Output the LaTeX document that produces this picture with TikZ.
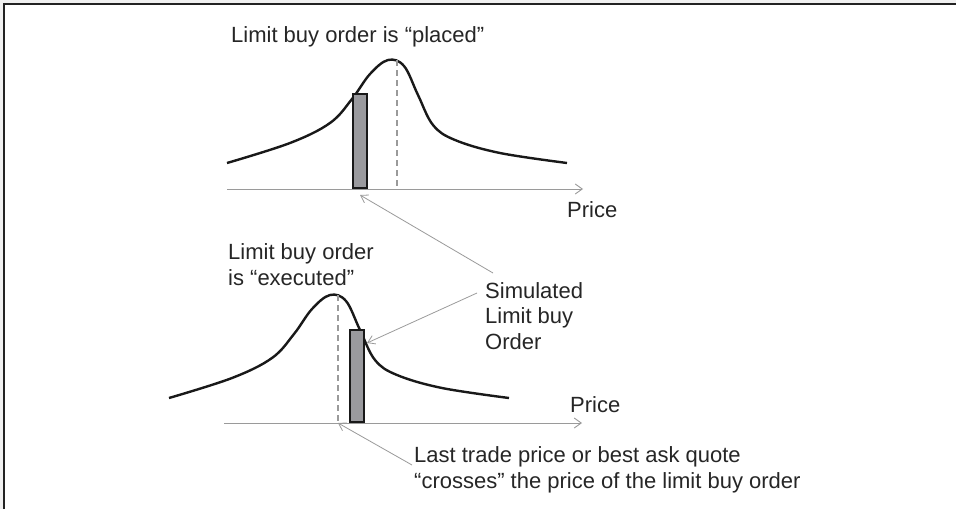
\documentclass[tikz,border=0pt]{standalone}
\usepackage{fontspec}
\setmainfont{Liberation Sans}
\usetikzlibrary{arrows.meta}
\definecolor{framegray}{HTML}{222222}
\definecolor{axisgray}{HTML}{9A9A9A}
\definecolor{bargray}{HTML}{9A9A9E}
\begin{document}
\begin{tikzpicture}[x=1pt, y=-1pt,
    curve/.style={line width=2.4pt, draw=black!90, line join=round},
    axisline/.style={draw=axisgray, line width=0.9pt, -{Straight Barb[length=7pt,width=10pt]}},
    pointer/.style={draw=axisgray, line width=0.8pt, -{Straight Barb[length=7pt,width=9pt]}},
    guide/.style={draw=axisgray, line width=1.4pt, dash pattern=on 6pt off 4pt},
    orderbar/.style={draw=black!90, fill=bargray, line width=2pt, inner sep=0pt, minimum width=14pt, anchor=south west},
    lbl/.style={inner sep=0pt, anchor=base west, align=left, font=\fontsize{22}{25.5}\selectfont, text=black!85},
]
\useasboundingbox (0,0) rectangle (956,509);
\fill[black!6] (0,0) rectangle (956,509);
\fill[white] (4,4) rectangle (956,509);
\draw[framegray, line width=2.5pt] (4,509) -- (4,4) -- (956,4);

% upper panel: order placed
\draw[curve] plot[smooth, tension=0.6] coordinates {(227,163) (290,143) (330,123) (352,99) (370,74) (388,60) (404,66) (418,95) (433,125) (455,140) (500,153) (567,163)};
\coordinate (ax1s) at (227,189);
\coordinate (ax1e) at (583,189);
\draw[axisline] (ax1s) -- (ax1e);
\coordinate (pk1) at (397,60);
\coordinate (cr1) at (397,189);
\draw[guide] (pk1) -- (cr1);
\node[orderbar, minimum height=94pt] (bar1) at (352,189) {};

% lower panel: order executed
\draw[curve] plot[smooth, tension=0.6] coordinates {(169,398) (232,378) (272,358) (294,334) (312,309) (330,295) (346,301) (360,330) (375,360) (397,375) (442,388) (509,398)};
\coordinate (ax2s) at (224,423);
\coordinate (ax2e) at (582,423);
\draw[axisline] (ax2s) -- (ax2e);
\coordinate (pk2) at (338,295);
\coordinate (cr2) at (338,423);
\draw[guide] (pk2) -- (cr2);
\node[orderbar, minimum height=92pt] (bar2) at (349,423) {};

% labels (base = last line)
\node[lbl] (title) at (231,42) {Limit buy order is “placed”};
\node[lbl] (price1) at (567,217) {Price};
\node[lbl] (exec) at (228,285) {Limit buy order\\is “executed”};
\node[lbl] (sim) at (485,349) {Simulated\\Limit buy\\Order};
\node[lbl] (price2) at (570,412) {Price};
\node[lbl] (last) at (414,488) {Last trade price or best ask quote\\“crosses” the price of the limit buy order};

% pointers
\draw[pointer] ([shift={(8,-76)}]sim.base west) -- ([shift={(0,6)}]bar1.south);
\draw[pointer] ([shift={(-8,-56)}]sim.base west) -- ([shift={(2,14)}]bar2.north east);
\draw[pointer] ([shift={(-2,-23)}]last.base west) -- (cr2);
\end{tikzpicture}
\end{document}
